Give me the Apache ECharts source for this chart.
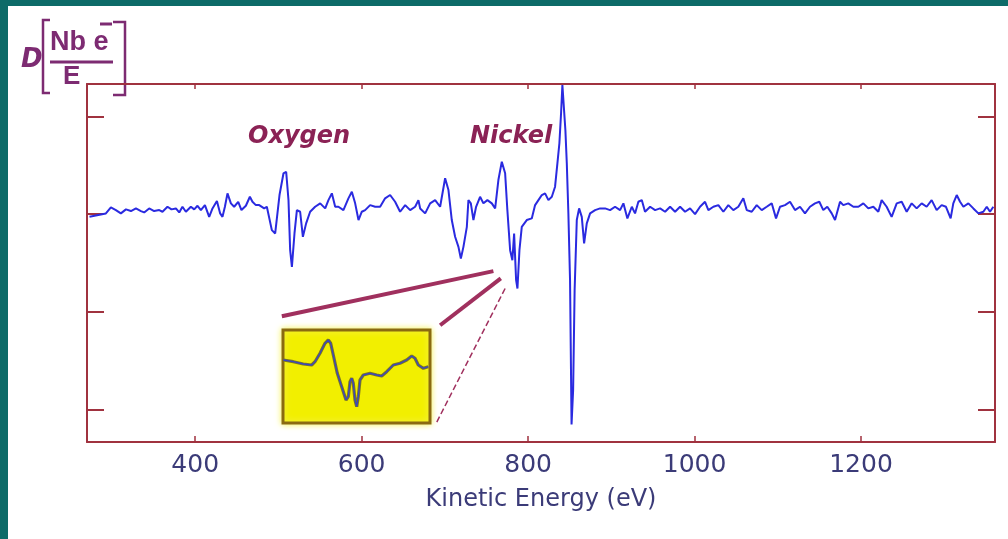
<!DOCTYPE html>
<html>
<head>
<meta charset="utf-8">
<script src="https://cdn.jsdelivr.net/npm/echarts@6/dist/echarts.min.js"></script>
<style>
  html, body { margin: 0; padding: 0; }
  body { background: #0d6b68; width: 1008px; height: 539px; position: relative; overflow: hidden; }
  #paper { position: absolute; left: 8px; top: 6px; width: 1000px; height: 533px; background: #fff; }
  #chart { position: absolute; left: 0; top: 0; width: 1008px; height: 539px; }
</style>
</head>
<body>
<div id="paper"></div>
<div id="chart"></div>
<script>
// Auger spectrum, dN/dE (eV, arbitrary units)
var energy = [
  273, 292.7, 298.7, 304.7, 310.7, 316.8, 322.8, 328.8, 334.8, 338.7, 344.7, 350.7, 356.8, 360.7,
  366.7, 371.5, 376.8, 380.8, 384.7, 388.8, 394.8, 398.8, 402.8, 406.8, 411.7, 416.8, 420.8, 426.1,
  430, 432.8, 435.7, 438.8, 442.9, 446.8, 451.7, 455.6, 460.9, 465.7, 468.8, 472.9, 476.9, 482.9,
  486.1, 492.1, 496.1, 501.3, 506.1, 509.3, 512.1, 514.1, 516.2, 519.3, 522.2, 526.1, 529.4, 533.3,
  538.1, 544.1, 550.2, 556.2, 560.1, 564.2, 568.2, 572.1, 578.1, 584.1, 588.2, 592.2, 596.2, 600.2,
  604.2, 610.2, 616.2, 622.2, 628.2, 634.2, 640.2, 646.2, 652.3, 658.3, 664.3, 668.2, 670.3, 676.3,
  682.3, 688.3, 694.3, 700.3, 704.3, 708.3, 712.3, 716.3, 719.2, 722.3, 726.4, 728.3, 731.2, 734.3,
  737.5, 742.3, 746.3, 751.1, 756.4, 760.4, 764.3, 768.4, 772.4, 775.1, 778.4, 781.1, 783.2, 785.6,
  787.2, 789.6, 792.4, 798.4, 804.4, 808.4, 812.4, 816.5, 820.4, 824.4, 828.5, 832.4, 835.2, 837.6,
  839.6, 841.2, 843.2, 844.8, 846.5, 848.4, 850.4, 852.2, 854.1, 855.9, 858.5, 861.3, 864.5, 867.3,
  870.5, 874.5, 880.5, 886.5, 892.5, 898.5, 904.5, 910.5, 914.5, 919.3, 924.6, 928.5, 932.5, 936.6,
  940.5, 946.6, 952.6, 958.6, 964.6, 970.6, 976.6, 982.6, 988.6, 994.6, 1000.6, 1006.6, 1012.6, 1016.6,
  1022.6, 1028.6, 1034.6, 1040.6, 1046.6, 1052.6, 1058.6, 1062.7, 1068.7, 1074.7, 1080.7, 1086.7, 1092.7, 1097.9,
  1102.7, 1108.7, 1114.7, 1120.7, 1126.7, 1132.7, 1138.7, 1144.7, 1149.9, 1154.7, 1159.5, 1164.8, 1168.8, 1174.8,
  1178.7, 1184.7, 1190.8, 1196.8, 1202.8, 1208.8, 1214.8, 1220.8, 1224.8, 1230.8, 1236.8, 1242.9, 1248.9, 1254.9,
  1260.9, 1266.9, 1272.9, 1278.9, 1284.9, 1290.9, 1296.9, 1302.1, 1307.7, 1310.9, 1315, 1319, 1323, 1329,
  1335, 1341, 1347, 1351.1, 1355, 1359
];
var signal = [
  -0.28, 0.07, 0.69, 0.41, 0.07, 0.48, 0.31, 0.58, 0.31, 0.17, 0.58, 0.31, 0.41, 0.24,
  0.75, 0.48, 0.58, 0.17, 0.75, 0.24, 0.75, 0.48, 0.85, 0.41, 0.92, -0.28, 0.58, 1.33,
  0.07, -0.28, 0.75, 2.12, 1.10, 0.75, 1.26, 0.41, 0.85, 1.77, 1.26, 0.92, 0.92, 0.58,
  0.75, -1.64, -1.98, 1.95, 4.17, 4.33, 1.43, -3.69, -5.40, -1.98, 0.41, 0.24, -2.32, -0.95,
  0.24, 0.75, 1.10, 0.58, 1.43, 2.12, 0.75, 0.75, 0.41, 1.61, 2.28, 1.10, -0.61, 0.24,
  0.41, 0.92, 0.75, 0.75, 1.61, 1.95, 1.26, 0.24, 0.92, 0.41, 0.75, 1.43, 0.58, 0.07,
  1.10, 1.43, 0.75, 3.66, 2.46, -0.61, -2.32, -3.35, -4.54, -3.35, -1.30, 1.43, 1.10, -0.61,
  0.75, 1.77, 1.10, 1.43, 1.10, 0.58, 3.48, 5.36, 4.17, 0.41, -3.69, -4.71, -1.98, -6.76,
  -7.61, -3.69, -1.30, -0.61, -0.44, 0.92, 1.43, 1.95, 2.12, 1.43, 1.77, 2.80, 5.19, 7.24,
  10.31, 13.2, 13.3, 8.60, 5.19, 0.07, -6.76, -21.5, -18.0, -7.78, -0.61, 0.58, -0.28, -3.00,
  -0.95, 0.07, 0.41, 0.58, 0.58, 0.41, 0.75, 0.41, 1.10, -0.44, 0.75, 0.07, 1.26, 1.43,
  0.24, 0.75, 0.41, 0.58, 0.24, 0.75, 0.24, 0.75, 0.24, 0.58, 0.00, 0.75, 1.26, 0.41,
  0.75, 0.92, 0.24, 0.92, 0.41, 0.75, 1.61, 0.41, 0.24, 0.92, 0.41, 0.75, 1.10, -0.44,
  0.75, 0.92, 1.26, 0.41, 0.75, 0.07, 0.75, 1.10, 1.26, 0.41, 0.75, 0.07, -0.61, 1.26,
  0.92, 1.10, 0.75, 0.75, 1.10, 0.58, 0.75, 0.24, 1.43, 0.75, -0.28, 1.10, 1.26, 0.24,
  1.10, 0.58, 1.10, 0.75, 1.43, 0.41, 0.92, 0.75, -0.44, 1.10, 1.95, 1.26, 0.75, 1.10,
  0.58, 0.07, 0.24, 0.75, 0.24, 0.75
];

// magnified Ni LMM detail shown in the yellow inset (inset units)
var insetX = [0.3, 10.3, 20.3, 28.7, 32, 37, 42, 45.3, 47.7, 50.3, 54.3, 58.7, 63, 65.3, 67, 68.7, 70.3,
  72, 73.7, 75.3, 77, 80.3, 87, 93.7, 98.7, 103.7, 110.3, 117, 123.7, 128.7, 132, 135.3, 140.3, 145.3];
var insetY = [63, 61.3, 59, 58, 61.3, 69.7, 79.7, 83, 79.7, 68, 49.7, 36.3, 23, 26.3, 41.3, 44.7, 39.7,
  23, 16.3, 26.3, 43, 48, 49.7, 48, 47, 51.3, 58, 59.7, 63, 67, 64.7, 58, 54.7, 56.3];

var xTicks = [400, 600, 800, 1000, 1200];
var yTicks = [-20, -10, 0, 10];

// magnifier guide lines: from the inset to the Ni feature [eV, signal]
var guides = [
  [[504.1, -10.44], [758.3, -5.83], 4, 'solid'],
  [[694.3, -11.36], [767.2, -6.58], 4, 'solid'],
  [[690.3, -21.26], [772.4, -7.6], 1.5, 'dashed']
];

var frame = '#a0323f';
var ink = '#3b3b78';
var purple = '#7d2b72';

var mainData = energy.map(function(e, i) { return [e, signal[i]]; });
var insetData = insetX.map(function(x, i) { return [x, insetY[i]]; });

var chart = echarts.init(document.getElementById('chart'), null, { renderer: 'canvas' });

function frameAxis(extra) {
  return Object.assign({
    type: 'value',
    gridIndex: 0,
    axisLine: { show: true, onZero: false, lineStyle: { color: frame, width: 2 } },
    splitLine: { show: false }
  }, extra);
}

var option = {
  animation: false,
  backgroundColor: 'transparent',
  grid: [
    { left: 87, right: 13, top: 84, bottom: 97, outerBoundsMode: 'none', containLabel: false },
    { left: 283, top: 330, width: 147, height: 93, show: true, backgroundColor: '#f2ef00',
      borderColor: '#8a6a10', borderWidth: 3, shadowBlur: 6, shadowColor: '#f4f25a',
      outerBoundsMode: 'none', containLabel: false, z: 3 }
  ],
  xAxis: [
    frameAxis({
      position: 'bottom', min: 270, max: 1361,
      axisTick: { show: true, inside: true, length: 6, customValues: xTicks, lineStyle: { color: frame, width: 1.5 } },
      axisLabel: { show: true, customValues: xTicks, color: ink, fontSize: 25, fontFamily: 'DejaVu Sans', margin: 11,
        formatter: function(v) { return String(v); } },
      name: 'Kinetic Energy (eV)', nameLocation: 'middle', nameGap: 46,
      nameTextStyle: { color: ink, fontSize: 24, fontFamily: 'DejaVu Sans' }
    }),
    frameAxis({
      position: 'top', min: 270, max: 1361,
      axisTick: { show: true, inside: true, length: 5, customValues: xTicks, lineStyle: { color: frame, width: 1.5 } },
      axisLabel: { show: false }
    }),
    { type: 'value', gridIndex: 1, min: 0, max: 147, axisLine: { show: false }, splitLine: { show: false },
      axisTick: { show: true, inside: true, length: 4, customValues: [98.7], lineStyle: { color: '#6b5a10' } },
      axisLabel: { show: false } }
  ],
  yAxis: [
    frameAxis({
      position: 'left', min: -23.3, max: 13.3,
      axisTick: { show: true, inside: true, length: 17, customValues: yTicks, lineStyle: { color: frame, width: 2 } },
      axisLabel: { show: false }
    }),
    frameAxis({
      position: 'right', min: -23.3, max: 13.3,
      axisTick: { show: true, inside: true, length: 17, customValues: yTicks, lineStyle: { color: frame, width: 2 } },
      axisLabel: { show: false }
    }),
    { type: 'value', gridIndex: 1, min: 0, max: 93, position: 'left', axisLine: { show: false }, splitLine: { show: false },
      axisTick: { show: true, inside: true, length: 4, customValues: [54], lineStyle: { color: '#6b5a10' } },
      axisLabel: { show: false } },
    { type: 'value', gridIndex: 1, min: 0, max: 93, position: 'right', axisLine: { show: false }, splitLine: { show: false },
      axisTick: { show: true, inside: true, length: 4, customValues: [54], lineStyle: { color: '#6b5a10' } },
      axisLabel: { show: false } }
  ],
  series: [
    {
      type: 'line', xAxisIndex: 0, yAxisIndex: 0, data: mainData,
      showSymbol: false, z: 2,
      lineStyle: { color: '#2a2ae0', width: 2 },
      markLine: {
        silent: true, symbol: ['none', 'none'], label: { show: false },
        data: guides.map(function(g) {
          return [
            { coord: g[0], lineStyle: { color: '#a0305e', width: g[2], type: g[3] } },
            { coord: g[1] }
          ];
        })
      }
    },
    {
      type: 'line', xAxisIndex: 2, yAxisIndex: 2, data: insetData, showSymbol: false, z: 4,
      lineStyle: { color: '#7d7820', width: 3.2 }
    },
    {
      type: 'line', xAxisIndex: 2, yAxisIndex: 2, data: insetData, showSymbol: false, z: 5,
      lineStyle: { color: '#3a46c0', width: 1.3 }
    }
  ],
  graphic: [
    { type: 'text', left: 248, top: 125, style: { text: 'Oxygen', fill: '#8b2255', font: 'italic bold 24px "DejaVu Sans"' } },
    { type: 'text', left: 470, top: 125, style: { text: 'Nickel', fill: '#8b2255', font: 'italic bold 24px "DejaVu Sans"' } },
    // y-axis label  D[ Nb e- / E ]
    { type: 'text', left: 21, top: 47, style: { text: 'D', fill: purple, font: 'italic bold 26px "DejaVu Sans"' } },
    { type: 'polyline', shape: { points: [[50, 20], [43, 20], [43, 93], [50, 93]] }, style: { stroke: purple, lineWidth: 2.5, fill: null } },
    { type: 'polyline', shape: { points: [[113, 22], [125, 22], [125, 95], [113, 95]] }, style: { stroke: purple, lineWidth: 2.5, fill: null } },
    { type: 'text', left: 50, top: 29, style: { text: 'Nb e', fill: purple, font: 'bold 27px "Liberation Sans"' } },
    { type: 'line', shape: { x1: 100, y1: 24, x2: 112, y2: 24 }, style: { stroke: purple, lineWidth: 3 } },
    { type: 'line', shape: { x1: 50, y1: 62, x2: 113, y2: 62 }, style: { stroke: purple, lineWidth: 3 } },
    { type: 'text', left: 63, top: 64, style: { text: 'E', fill: purple, font: 'bold 26px "Liberation Sans"' } }
  ]
};

chart.setOption(option);
</script>
</body>
</html>
